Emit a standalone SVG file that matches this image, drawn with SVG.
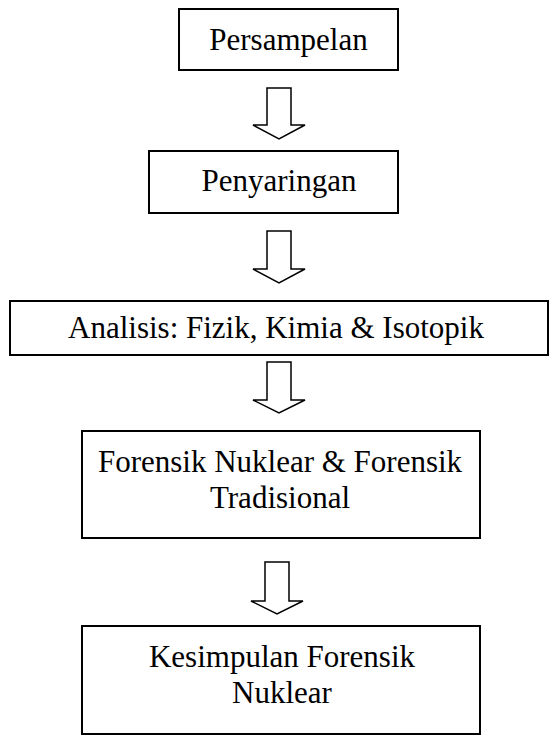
<svg xmlns="http://www.w3.org/2000/svg" width="550" height="736" viewBox="0 0 550 736">
<style>
.box{fill:#fff;stroke:#000;stroke-width:2}
.arr{fill:#fff;stroke:#000;stroke-width:1.5;stroke-linejoin:miter}
text{font-family:"Liberation Serif","Times New Roman",serif;font-size:31px;fill:#000;text-anchor:middle}
</style>
<rect width="550" height="736" fill="#fff"/>
<g id="connectors">
<path class="arr" d="M267,88 H291 V125 H305 L279,139 L253,125 H267 Z"/>
<path class="arr" d="M267,231 H291 V269 H305 L279,283 L253,269 H267 Z"/>
<path class="arr" d="M267,362 H291 V400 H305 L279,413 L253,400 H267 Z"/>
<path class="arr" d="M265,562 H289 V601 H303 L277,614 L251,601 H265 Z"/>
</g>
<g id="n1"><rect class="box" x="179" y="9" width="219" height="61"/><text x="288.5" y="50">Persampelan</text></g>
<g id="n2"><rect class="box" x="149" y="151" width="249" height="62"/><text x="279" y="191">Penyaringan</text></g>
<g id="n3"><rect class="box" x="10" y="301" width="538" height="54"/><text x="276" y="338">Analisis: Fizik, Kimia &amp; Isotopik</text></g>
<g id="n4"><rect class="box" x="82" y="431" width="398" height="107"/><text x="280" y="472">Forensik Nuklear &amp; Forensik</text><text x="280" y="508">Tradisional</text></g>
<g id="n5"><rect class="box" x="82" y="626" width="398" height="108"/><text x="282" y="667">Kesimpulan Forensik</text><text x="282" y="703">Nuklear</text></g>
</svg>
